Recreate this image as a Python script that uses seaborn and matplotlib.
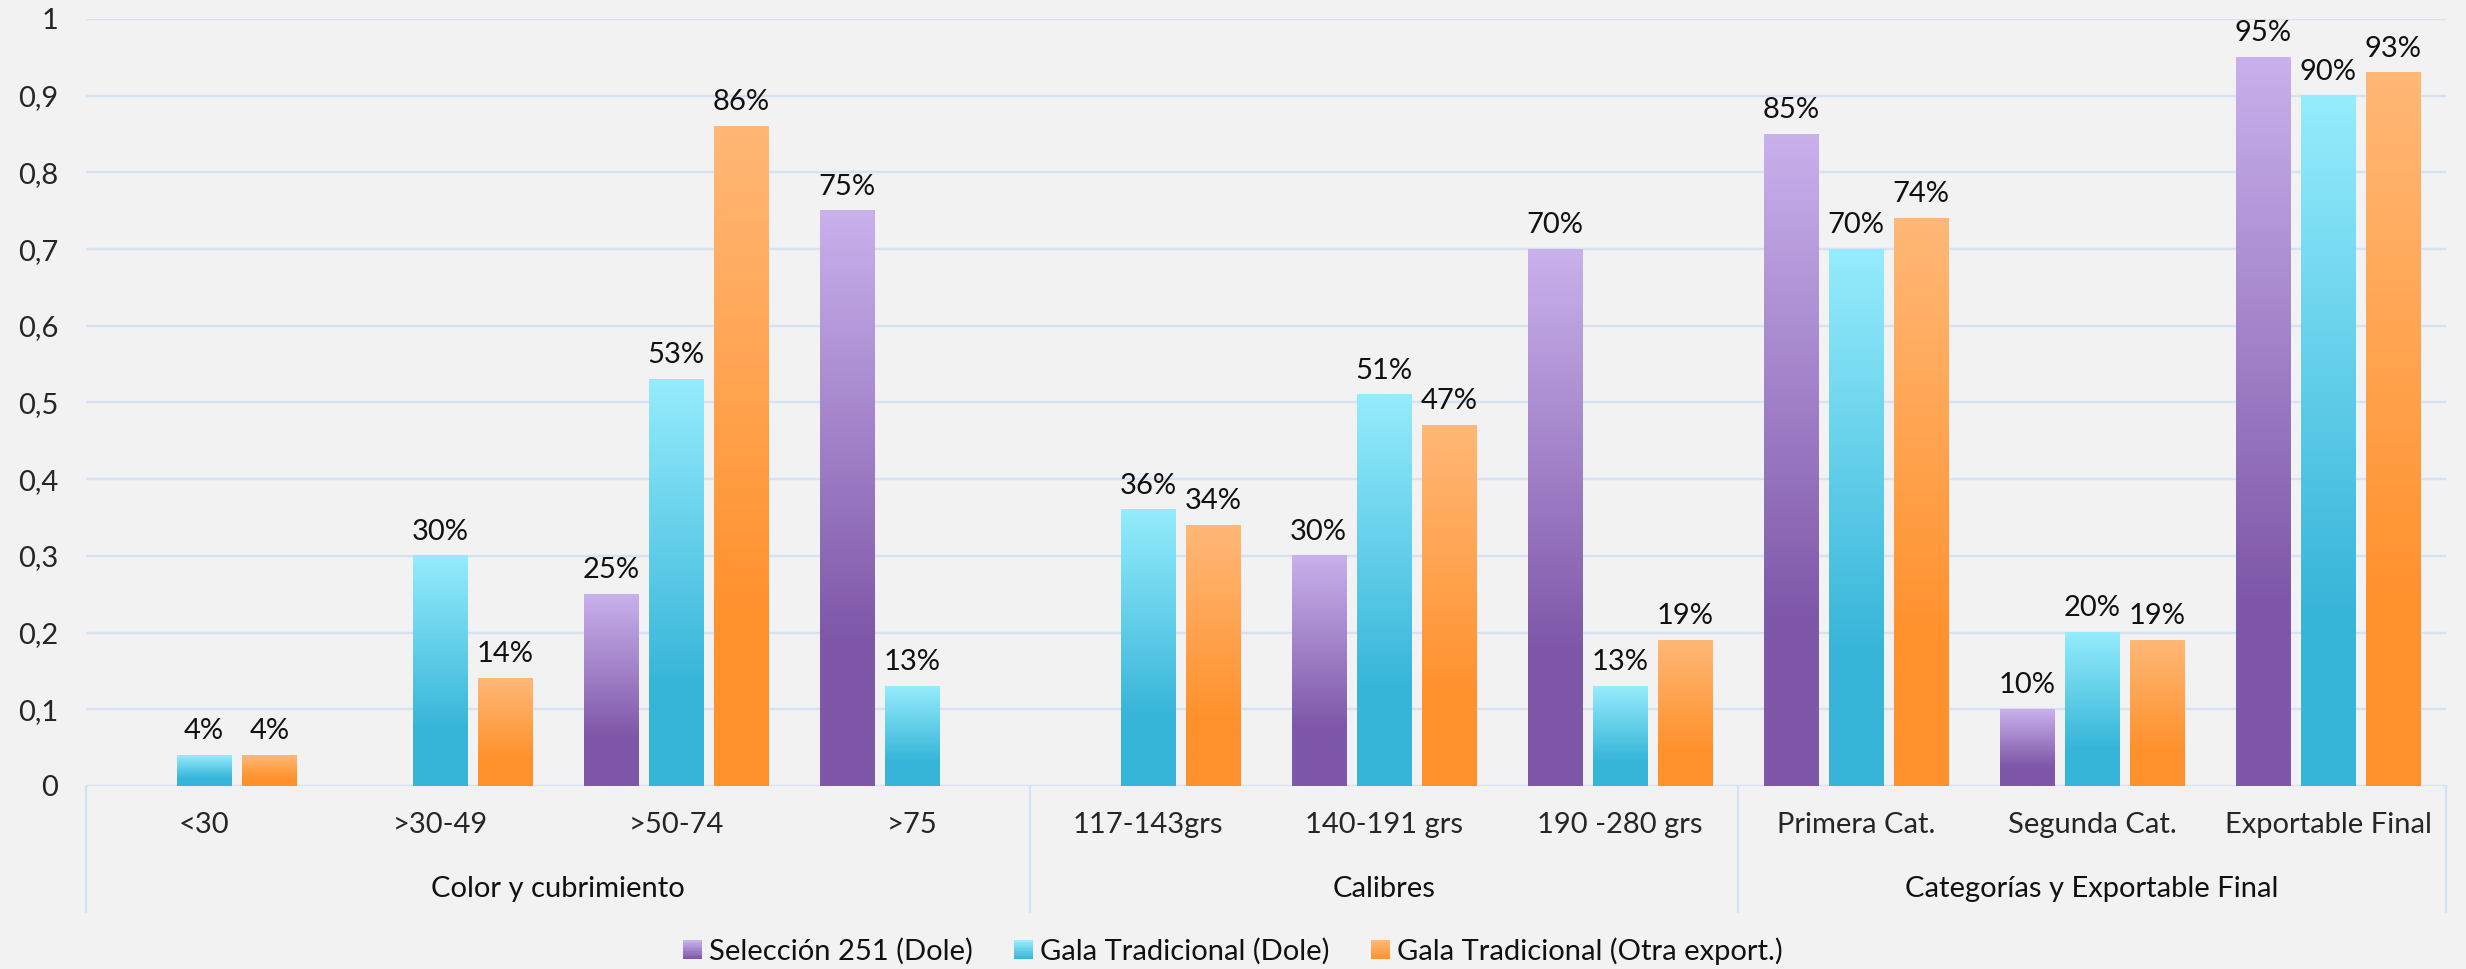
import numpy as np
import pandas as pd
import matplotlib
matplotlib.use("Agg")
import matplotlib.pyplot as plt
import seaborn as sns
from matplotlib.colors import to_rgb
from matplotlib.patches import Rectangle
from matplotlib.legend_handler import HandlerBase
from matplotlib.ticker import FuncFormatter

# data
categories = ["<30", ">30-49", ">50-74", ">75",
              "117-143grs", "140-191 grs", "190 -280 grs",
              "Primera Cat.", "Segunda Cat.", "Exportable Final"]
groups = ["Color y cubrimiento", "Calibres", "Categorías y Exportable Final"]
group_sizes = [4, 3, 3]
series = ["Selección 251 (Dole)", "Gala Tradicional (Dole)", "Gala Tradicional (Otra export.)"]
seleccion = [np.nan, np.nan, 0.25, 0.75, np.nan, 0.30, 0.70, 0.85, 0.10, 0.95]
gala_dole = [0.04, 0.30, 0.53, 0.13, 0.36, 0.51, 0.13, 0.70, 0.20, 0.90]
gala_otra = [0.04, 0.14, 0.86, np.nan, 0.34, 0.47, 0.19, 0.74, 0.19, 0.93]

# gradient colours (top, bottom) per series
tops = ["#c9b1ec", "#95ecfc", "#ffb877"]
bottoms = ["#7e57a8", "#37b5d9", "#ff912c"]

df = pd.DataFrame({"Categoria": categories, series[0]: seleccion,
                   series[1]: gala_dole, series[2]: gala_otra})
df = df.melt(id_vars="Categoria", var_name="Serie", value_name="Valor").dropna()

sns.set_style("white")
plt.rcParams["font.family"] = ["Lato", "DejaVu Sans"]
plt.rcParams["text.color"] = "#111111"

BG = "#f2f2f2"
GRID = "#d6e2f2"
FS = 21

fig = plt.figure(figsize=(24.66, 9.69), dpi=100, facecolor=BG)
ax = fig.add_axes([0.0349, 0.1889, 0.957, 0.7915])
ax.set_facecolor(BG)

mid = [tuple((np.array(to_rgb(t)) + np.array(to_rgb(b))) / 2) for t, b in zip(tops, bottoms)]
sns.barplot(data=df, x="Categoria", y="Valor", hue="Serie", order=categories,
            hue_order=series, palette=mid, width=0.83, gap=0.17, errorbar=None,
            legend=False, ax=ax)


def gradient_img(top, bottom, n=256, reach=0.75):
    t = np.clip(np.linspace(0, 1, n) / reach, 0, 1)
    c0, c1 = np.array(to_rgb(top)), np.array(to_rgb(bottom))
    img = c0[None, :] * (1 - t[:, None]) + c1[None, :] * t[:, None]
    return img[:, None, :]


for i, cont in enumerate(ax.containers):
    img = gradient_img(tops[i], bottoms[i])
    for p in cont:
        h = p.get_height()
        if not np.isfinite(h) or h <= 0:
            continue
        x0, w = p.get_x(), p.get_width()
        ax.imshow(img, extent=(x0, x0 + w, 0, h), aspect="auto", origin="upper",
                  zorder=2, interpolation="bilinear")
        p.set_visible(False)
    ax.bar_label(cont, labels=[f"{v * 100:.0f}%" if np.isfinite(v) else "" for v in cont.datavalues],
                 padding=8, fontsize=FS, color="#111111")

ax.set_xlim(-0.5, len(categories) - 0.5)
ax.set_ylim(0, 1)
ax.set_yticks(np.arange(0, 1.01, 0.1))
ax.yaxis.set_major_formatter(FuncFormatter(lambda v, _: f"{v:.1f}".replace(".", ",").replace("0,0", "0").replace("1,0", "1")))
ax.yaxis.grid(True, color=GRID, lw=1.7)
ax.set_axisbelow(True)
for s in ax.spines.values():
    s.set_visible(False)
ax.tick_params(axis="y", length=0, pad=20, labelsize=FS)
ax.tick_params(axis="x", length=0, pad=19, labelsize=FS)
ax.set_xticks(range(len(categories)))
ax.set_xticklabels(categories)
ax.set_xlabel("")
ax.set_ylabel("")

# second level of the category axis
tr = ax.get_xaxis_transform()
edges = np.concatenate([[0], np.cumsum(group_sizes)]) - 0.5
for x in edges:
    ax.plot([x, x], [0, -0.164], transform=tr, color=GRID, lw=1.7, clip_on=False)
for g, a, b in zip(groups, edges[:-1], edges[1:]):
    ax.annotate(g, xy=((a + b) / 2, 0), xycoords=tr, xytext=(0, -74),
                textcoords="offset points", ha="center", va="center", fontsize=FS)


class GradientHandler(HandlerBase):
    def __init__(self, top, bottom):
        super().__init__()
        self.top, self.bottom = top, bottom

    def create_artists(self, legend, orig, xd, yd, width, height, fontsize, trans):
        n = 12
        side = min(width, height)
        x0 = xd + width - side
        c0, c1 = np.array(to_rgb(self.top)), np.array(to_rgb(self.bottom))
        arts = []
        for k in range(n):
            t = k / (n - 1)
            col = c1 * (1 - t) + c0 * t
            arts.append(Rectangle((x0, -yd + side * k / n), side, side / n + 0.3,
                                  facecolor=col, edgecolor="none", transform=trans))
        return arts


handles = [Rectangle((0, 0), 1, 1) for _ in series]
fig.legend(handles, series, loc="center", bbox_to_anchor=(0.5, 1 - 951 / 969), ncol=3,
           frameon=False, fontsize=FS, handlelength=0.65, handleheight=0.65,
           handletextpad=0.25, columnspacing=1.4,
           handler_map={h: GradientHandler(t, b) for h, t, b in zip(handles, tops, bottoms)})

fig.savefig("out.png", dpi=100, facecolor=BG)
